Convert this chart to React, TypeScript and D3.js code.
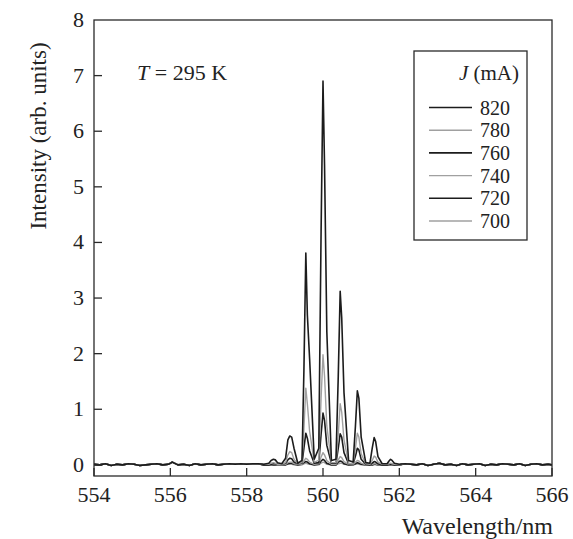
import React from "react";
import * as d3 from "d3";

const CURRENTS = ["820", "780", "760", "740", "720", "700"];
const COLORS = ["#1c1c1c", "#a0a0a0", "#1c1c1c", "#a0a0a0", "#1c1c1c", "#a0a0a0"];

const X_TICKS = [554, 556, 558, 560, 562, 564, 566];
const Y_TICKS = [0, 1, 2, 3, 4, 5, 6, 7, 8];

// baseline segments (shared)
const WL_LEFT = [554.0, 554.15, 554.3, 554.45, 554.6, 554.75, 554.9, 555.05, 555.2, 555.35, 555.5, 555.65, 555.8, 555.95, 556.05, 556.2, 556.35, 556.5, 556.65, 556.8, 556.95, 557.1, 557.25, 557.4, 557.55, 557.7, 557.85, 558.0, 558.15, 558.3];
const BASE_LEFT = [0.01, 0.0, 0.02, -0.01, 0.01, 0.0, 0.02, 0.01, -0.01, 0.0, 0.01, 0.02, 0.0, 0.01, 0.05, 0.0, 0.01, -0.01, 0.02, 0.0, 0.01, 0.02, 0.0, 0.01, 0.02, 0.01, 0.02, 0.01, 0.02, 0.02];
const WL_RIGHT = [562.15, 562.3, 562.45, 562.6, 562.75, 562.9, 563.05, 563.2, 563.35, 563.5, 563.65, 563.8, 563.95, 564.1, 564.25, 564.4, 564.55, 564.7, 564.85, 565.0, 565.15, 565.3, 565.45, 565.6, 565.75, 565.9, 566.0];
const BASE_RIGHT = [0.02, 0.01, 0.0, 0.02, -0.01, 0.01, 0.03, 0.0, 0.01, -0.01, 0.02, 0.0, 0.01, 0.02, -0.01, 0.01, 0.0, 0.02, 0.01, 0.0, 0.02, -0.01, 0.01, 0.02, 0.0, 0.01, 0.0];

// peak region
const WL_PEAK = [558.45, 558.58, 558.64, 558.70, 558.75, 558.81, 558.92, 559.02, 559.08, 559.13, 559.18, 559.24, 559.34, 559.45, 559.50, 559.55, 559.59, 559.65, 559.77, 559.89, 559.95, 560.00, 560.04, 560.10, 560.22, 560.34, 560.40, 560.45, 560.49, 560.55, 560.67, 560.79, 560.85, 560.90, 560.94, 561.00, 561.12, 561.23, 561.29, 561.34, 561.38, 561.44, 561.55, 561.68, 561.73, 561.77, 561.81, 561.87, 562.00];

const I820 = [0.01,
  0.03, 0.08, 0.10, 0.09, 0.04, 0.02,
  0.12, 0.45, 0.52, 0.50, 0.30, 0.03,
  0.08, 1.70, 3.81, 2.70, 1.90, 0.10,
  0.30, 4.20, 6.90, 5.40, 2.40, 0.08,
  0.10, 1.60, 3.12, 2.65, 1.30, 0.08,
  0.05, 0.70, 1.33, 1.20, 0.50, 0.04,
  0.03, 0.30, 0.49, 0.42, 0.15, 0.02,
  0.02, 0.07, 0.10, 0.08, 0.03, 0.01];
const I780 = [0.01,
  0.01, 0.03, 0.04, 0.03, 0.01, 0.01,
  0.04, 0.18, 0.24, 0.22, 0.10, 0.02,
  0.04, 0.65, 1.38, 1.10, 0.60, 0.05,
  0.08, 1.20, 1.98, 1.60, 0.70, 0.04,
  0.04, 0.55, 1.10, 0.95, 0.45, 0.03,
  0.02, 0.30, 0.57, 0.50, 0.20, 0.02,
  0.01, 0.08, 0.16, 0.14, 0.05, 0.01,
  0.01, 0.02, 0.03, 0.02, 0.01, 0.0];
const I760 = [0.0,
  0.0, 0.01, 0.02, 0.02, 0.01, 0.01,
  0.03, 0.09, 0.12, 0.11, 0.05, 0.02,
  0.03, 0.30, 0.57, 0.48, 0.25, 0.03,
  0.04, 0.55, 0.93, 0.80, 0.35, 0.03,
  0.03, 0.30, 0.56, 0.50, 0.22, 0.02,
  0.02, 0.16, 0.30, 0.27, 0.10, 0.01,
  0.0, 0.03, 0.06, 0.05, 0.02, 0.0,
  0.0, 0.01, 0.01, 0.01, 0.0, 0.0];
const I740 = [0.0,
  0.0, 0.0, 0.01, 0.01, 0.0, 0.0,
  0.01, 0.04, 0.05, 0.05, 0.02, 0.01,
  0.01, 0.07, 0.12, 0.10, 0.05, 0.01,
  0.02, 0.14, 0.22, 0.18, 0.08, 0.01,
  0.01, 0.09, 0.15, 0.13, 0.06, 0.01,
  0.0, 0.05, 0.08, 0.07, 0.03, 0.0,
  0.0, 0.01, 0.02, 0.02, 0.0, 0.0,
  0.0, 0.0, 0.0, 0.0, 0.0, 0.0];
const I720 = [0.0,
  0.0, 0.0, 0.0, 0.0, 0.0, 0.0,
  0.0, 0.02, 0.03, 0.03, 0.01, 0.0,
  0.01, 0.04, 0.06, 0.05, 0.02, 0.0,
  0.01, 0.07, 0.10, 0.08, 0.03, 0.0,
  0.0, 0.05, 0.07, 0.06, 0.02, 0.0,
  0.0, 0.02, 0.04, 0.03, 0.01, 0.0,
  0.0, 0.0, 0.01, 0.01, 0.0, 0.0,
  0.0, 0.0, 0.0, 0.0, 0.0, 0.0];
const I700 = [0.0,
  0.0, 0.0, 0.0, 0.0, 0.0, 0.0,
  0.0, 0.01, 0.01, 0.01, 0.0, 0.0,
  0.0, 0.02, 0.03, 0.02, 0.01, 0.0,
  0.0, 0.03, 0.05, 0.04, 0.01, 0.0,
  0.0, 0.02, 0.03, 0.03, 0.01, 0.0,
  0.0, 0.01, 0.02, 0.01, 0.0, 0.0,
  0.0, 0.0, 0.0, 0.0, 0.0, 0.0,
  0.0, 0.0, 0.0, 0.0, 0.0, 0.0];

const SERIES = [I820, I780, I760, I740, I720, I700];

const W = 573;
const H = 539;
const TXT: React.CSSProperties = { fontFamily: '"Liberation Serif", "DejaVu Serif", serif' };

export default function App() {
  const x = d3.scaleLinear().domain([554, 566]).range([94, 552]);
  const y = d3.scaleLinear().domain([-0.2, 8]).range([476, 20]);

  const line = d3
    .line<[number, number]>()
    .x((d) => x(d[0]))
    .y((d) => y(d[1]))
    .curve(d3.curveLinear);

  const buildSeries = (vals: number[]): [number, number][] => {
    const pts: [number, number][] = [];
    WL_LEFT.forEach((w, i) => pts.push([w, BASE_LEFT[i]]));
    WL_PEAK.forEach((w, i) => pts.push([w, vals[i]]));
    WL_RIGHT.forEach((w, i) => pts.push([w, BASE_RIGHT[i]]));
    return pts;
  };

  const order = [5, 4, 3, 2, 1, 0];
  const legendX1 = 429;
  const legendX2 = 472;
  const legendY0 = 107.5;
  const legendDy = 22.7;

  return (
    <svg
      width={W}
      height={H}
      style={{ position: "absolute", left: 0, top: 0, background: "#fff" }}
    >
      <rect x={0} y={0} width={W} height={H} fill="#fff" />
      <defs>
        <clipPath id="plotclip">
          <rect x={94} y={20} width={458} height={456} />
        </clipPath>
      </defs>

      <g clipPath="url(#plotclip)">
        {order.map((si) => (
          <path
            key={CURRENTS[si]}
            d={line(buildSeries(SERIES[si])) || ""}
            fill="none"
            stroke={COLORS[si]}
            strokeWidth={si % 2 === 0 ? 1.6 : 1.4}
            strokeLinejoin="round"
          />
        ))}
      </g>

      {/* frame */}
      <rect x={94} y={20} width={458} height={456} fill="none" stroke="#2a2a2a" strokeWidth={1.3} />

      {/* y ticks */}
      {Y_TICKS.map((t) => (
        <g key={"y" + t}>
          {t < 8 && (
            <line x1={94} x2={102} y1={y(t)} y2={y(t)} stroke="#2a2a2a" strokeWidth={1.3} />
          )}
          <text x={84} y={y(t) + 7} textAnchor="end" fontSize={22} fill="#222" style={TXT}>
            {t}
          </text>
        </g>
      ))}

      {/* x ticks */}
      {X_TICKS.map((t) => (
        <g key={"x" + t}>
          <line x1={x(t)} x2={x(t)} y1={476} y2={468} stroke="#2a2a2a" strokeWidth={1.3} />
          <text x={x(t)} y={502} textAnchor="middle" fontSize={22} fill="#222" style={TXT}>
            {t}
          </text>
        </g>
      ))}

      {/* axis titles */}
      <text x={553} y={534} textAnchor="end" fontSize={24} fill="#222" style={TXT}>
        Wavelength/nm
      </text>
      <text
        transform={`translate(46, 136) rotate(-90)`}
        textAnchor="middle"
        fontSize={23}
        fill="#222"
        style={TXT}
      >
        Intensity (arb. units)
      </text>

      {/* temperature annotation */}
      <text x={137} y={80} fontSize={22} fill="#222" style={TXT}>
        <tspan fontStyle="italic">T</tspan> = 295 K
      </text>

      {/* legend */}
      <rect x={414} y={51} width={113} height={189} fill="#fff" stroke="#2a2a2a" strokeWidth={1.3} />
      <text x={519} y={80} textAnchor="end" fontSize={21} fill="#222" style={TXT}>
        <tspan fontStyle="italic">J</tspan> (mA)
      </text>
      {CURRENTS.map((c, i) => (
        <g key={"lg" + c}>
          <line
            x1={legendX1}
            x2={legendX2}
            y1={legendY0 + i * legendDy}
            y2={legendY0 + i * legendDy}
            stroke={COLORS[i]}
            strokeWidth={i % 2 === 0 ? 1.6 : 1.4}
          />
          <text x={480} y={legendY0 + i * legendDy + 7} fontSize={20} fill="#222" style={TXT}>
            {c}
          </text>
        </g>
      ))}
    </svg>
  );
}
